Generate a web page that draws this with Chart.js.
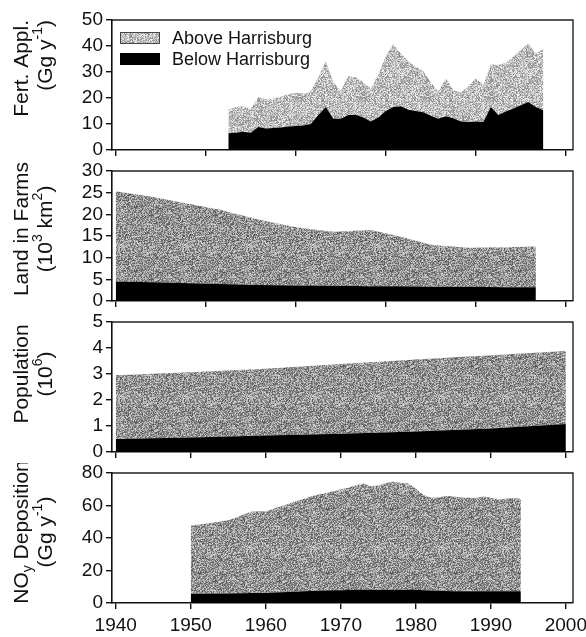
<!DOCTYPE html>
<html>
<head>
<meta charset="utf-8">
<script src="https://cdn.jsdelivr.net/npm/chart.js@4.4.1/dist/chart.umd.min.js"></script>
<style>
	body { margin: 0; background: #fff; }
	#wrap { position: relative; width: 586px; height: 637px; }
	#wrap canvas { position: absolute; left: 0; }
</style>
</head>
<body>
<div id="wrap">
	<canvas id="c-fert" width="586" height="151" style="top:10px"></canvas>
	<canvas id="c-land" width="586" height="151" style="top:161px"></canvas>
	<canvas id="c-pop" width="586" height="151" style="top:312px"></canvas>
	<canvas id="c-noy" width="586" height="174" style="top:463px"></canvas>
</div>
<script>
// --- data ---
var fertYears = [1955, 1956, 1957, 1958, 1959, 1960, 1961, 1962, 1963, 1964, 1965, 1966, 1967, 1968, 1969, 1970, 1971, 1972, 1973, 1974, 1975, 1976, 1977, 1978, 1979, 1980, 1981, 1982, 1983, 1984, 1985, 1986, 1987, 1988, 1989, 1990, 1991, 1992, 1993, 1994, 1995, 1996, 1997];
var fertTotal = [15.6, 16.5, 16.8, 15.8, 20.4, 19.5, 19.8, 20.5, 21.5, 22.0, 21.6, 22.5, 28.0, 34.0, 26.0, 22.8, 28.4, 28.0, 26.0, 23.7, 29.0, 36.0, 40.7, 37.0, 34.0, 32.0, 30.3, 26.0, 22.4, 27.5, 23.0, 22.0, 24.5, 27.5, 25.0, 33.0, 32.7, 33.5, 36.0, 38.5, 41.0, 37.0, 39.0];
var fertBelow = [6.4, 6.6, 7.0, 6.6, 8.8, 8.3, 8.5, 8.7, 9.0, 9.2, 9.4, 10.0, 13.5, 16.5, 12.0, 12.0, 13.5, 13.6, 12.5, 11.0, 12.5, 15.0, 16.5, 16.8, 15.5, 15.0, 14.5, 13.2, 12.0, 13.0, 12.2, 11.0, 10.8, 11.0, 10.8, 16.5, 13.5, 14.8, 16.0, 17.2, 18.5, 16.5, 15.3];

var landYears = [1940, 1945, 1950, 1954, 1959, 1964, 1969, 1974, 1978, 1982, 1987, 1992, 1996];
var landTotal = [25.3, 24.0, 22.3, 21.0, 18.8, 17.0, 16.0, 16.4, 14.8, 13.0, 12.3, 12.4, 12.6];
var landBelow = [4.5, 4.3, 4.1, 3.9, 3.7, 3.6, 3.5, 3.4, 3.4, 3.3, 3.3, 3.2, 3.2];

var popYears = [1940, 1950, 1960, 1970, 1980, 1990, 2000];
var popTotal = [2.95, 3.07, 3.20, 3.38, 3.56, 3.72, 3.88];
var popBelow = [0.50, 0.56, 0.63, 0.70, 0.79, 0.90, 1.08];

var noyYears = [1950, 1951, 1952, 1953, 1954, 1955, 1956, 1957, 1958, 1959, 1960, 1961, 1962, 1963, 1964, 1965, 1966, 1967, 1968, 1969, 1970, 1971, 1972, 1973, 1974, 1975, 1976, 1977, 1978, 1979, 1980, 1981, 1982, 1983, 1984, 1985, 1986, 1987, 1988, 1989, 1990, 1991, 1992, 1993, 1994];
var noyTotal = [47.5, 48.3, 48.8, 49.5, 50.2, 50.9, 52.5, 54.5, 56.2, 56.4, 56.5, 58.0, 59.5, 61.0, 62.6, 64.0, 65.5, 66.7, 67.5, 68.8, 70.0, 71.0, 72.5, 73.5, 71.8, 72.5, 73.8, 74.8, 74.0, 73.5, 70.5, 66.5, 65.0, 65.0, 65.8, 65.5, 65.0, 64.8, 64.6, 65.6, 64.8, 63.6, 64.2, 64.6, 64.0];
var noyBelow = [5.7, 5.7, 5.8, 5.8, 5.9, 5.9, 6.0, 6.0, 6.1, 6.1, 6.2, 6.4, 6.6, 6.8, 7.0, 7.2, 7.4, 7.5, 7.7, 7.8, 7.9, 8.0, 8.1, 8.2, 8.2, 8.2, 8.2, 8.2, 8.2, 8.2, 8.1, 7.9, 7.7, 7.5, 7.4, 7.3, 7.3, 7.3, 7.2, 7.2, 7.2, 7.2, 7.2, 7.2, 7.2];

var seriesLabels = ["Below Harrisburg", "Above Harrisburg"];
var xTicksTwelve = [1940, 1952, 1964, 1976, 1988, 2000];
var xTicksDecade = [1940, 1950, 1960, 1970, 1980, 1990, 2000];

var FONT = "'Liberation Sans', Arial, sans-serif";
var TICK_SIZE = 19;
var TITLE_SIZE = 21;

function makeStipple(lo, hi, seed)
{
	var c = document.createElement("canvas");
	c.width = 64; c.height = 64;
	var g = c.getContext("2d");
	var img = g.createImageData(64, 64);
	var s = seed >>> 0;
	for (var i = 0; i < 64 * 64; i++)
	{
		s = (Math.imul(s, 1664525) + 1013904223) >>> 0;
		var v = lo + ((s >>> 20) % (hi - lo));
		img.data[i * 4] = img.data[i * 4 + 1] = img.data[i * 4 + 2] = v;
		img.data[i * 4 + 3] = 255;
	}
	g.putImageData(img, 0, 0);
	return g.createPattern(c, "repeat");
}

function toPoints(xs, ys)
{
	return xs.map(function(x, i) { return { x: x, y: ys[i] }; });
}

// rotated axis title with super/subscripts
function drawRich(ctx, parts, x, y, align)
{
	ctx.save();
	ctx.translate(x, y);
	ctx.rotate(-Math.PI / 2);
	ctx.textBaseline = "middle";
	var w = 0;
	parts.forEach(function(p)
	{
		ctx.font = (p.sup || p.sub ? "14px " : TITLE_SIZE + "px ") + FONT;
		p.w = ctx.measureText(p.t).width;
		w += p.w;
	});
	var cx = align === "end" ? -w : -w / 2;
	parts.forEach(function(p)
	{
		ctx.font = (p.sup || p.sub ? "14px " : TITLE_SIZE + "px ") + FONT;
		ctx.fillStyle = "#111";
		var dy = p.sup ? -8 : (p.sub ? 6 : 0);
		ctx.fillText(p.t, cx, dy);
		cx += p.w;
	});
	ctx.restore();
}

var panelPlugin = {
	id: "panel",
	afterDraw: function(chart, args, opts)
	{
		var a = chart.chartArea, ctx = chart.ctx;
		ctx.save();
		ctx.strokeStyle = "#222";
		ctx.lineWidth = 1.4;
		ctx.beginPath();
		ctx.moveTo(a.left, a.top);
		ctx.lineTo(a.right, a.top);
		ctx.lineTo(a.right, a.bottom);
		ctx.stroke();
		ctx.restore();

		var top = opts.canvasTop;
		opts.title.forEach(function(line, i)
		{
			drawRich(ctx, line, opts.titleX[i], opts.titleY[i] - top, opts.titleAlign);
		});

		if (opts.legend)
		{
			var ds = chart.data.datasets;
			var rows = [ds[1], ds[0]];
			ctx.save();
			ctx.font = "18px " + FONT;
			ctx.textBaseline = "middle";
			rows.forEach(function(d, i)
			{
				var yy = [38, 59][i] - top;
				ctx.fillStyle = d.backgroundColor;
				ctx.fillRect(120, yy - 6, 40, 12);
				if (i === 0)
				{
					ctx.strokeStyle = "#444";
					ctx.lineWidth = 1;
					ctx.strokeRect(120.5, yy - 5.5, 39, 11);
				}
				ctx.fillStyle = "#111";
				ctx.fillText(d.label, 172, yy + 1);
			});
			ctx.restore();
		}
	}
};

function MakePanel(id, canvasTop, years, total, below, yMax, yStep, xTicks, showX, fill, panelOpts)
{
	panelOpts.canvasTop = canvasTop;
	return new Chart(document.getElementById(id), {
		type: "line",
		data: {
			datasets: [
				{ label: seriesLabels[0], data: toPoints(years, below), backgroundColor: "#000", fill: "origin", borderWidth: 0, pointRadius: 0 },
				{ label: seriesLabels[1], data: toPoints(years, total), backgroundColor: fill, fill: "-1", borderWidth: 0, pointRadius: 0 }
			]
		},
		options: {
			responsive: false,
			animation: false,
			devicePixelRatio: 1,
			layout: { padding: { top: 10, right: 13, left: 0, bottom: 0 } },
			plugins: { legend: { display: false }, tooltip: { enabled: false }, panel: panelOpts },
			scales: {
				x: {
					type: "linear",
					min: 1939.5,
					max: 2000.95,
					afterBuildTicks: function(scale) { scale.ticks = xTicks.map(function(v) { return { value: v }; }); },
					afterFit: function(scale)
					{
						scale.height = showX ? 34 : 11;
						scale.paddingLeft = scale.paddingRight = 0;
					},
					grid: { drawOnChartArea: false, color: "#111", lineWidth: 1.4, tickLength: 6 },
					border: { display: true, color: "#111", width: 1.6 },
					ticks: {
						display: showX,
						autoSkip: false,
						color: "#111",
						padding: 5,
						maxRotation: 0,
						font: { family: FONT, size: TICK_SIZE },
						callback: function(v) { return String(v); }
					}
				},
				y: {
					min: 0,
					max: yMax,
					afterFit: function(scale)
					{
						scale.width = 112;
						scale.paddingTop = scale.paddingBottom = 0;
					},
					grid: { drawOnChartArea: false, color: "#111", lineWidth: 1.4, tickLength: 6 },
					border: { display: true, color: "#111", width: 1.6 },
					ticks: { stepSize: yStep, autoSkip: false, color: "#111", padding: 3, font: { family: FONT, size: TICK_SIZE } }
				}
			}
		},
		plugins: [panelPlugin]
	});
}

var lightStipple = makeStipple(135, 245, 7);
var darkStipple = makeStipple(85, 215, 31);

MakePanel("c-fert", 10, fertYears, fertTotal, fertBelow, 50, 10, xTicksTwelve, false, lightStipple, {
	title: [[{ t: "Fert. Appl." }], [{ t: "(Gg y" }, { t: "-1", sup: true }, { t: ")" }]],
	titleX: [22, 46], titleY: [20, 20], titleAlign: "end", legend: true
});
MakePanel("c-land", 161, landYears, landTotal, landBelow, 30, 5, xTicksTwelve, false, darkStipple, {
	title: [[{ t: "Land in Farms" }], [{ t: "(10" }, { t: "3", sup: true }, { t: " km" }, { t: "2", sup: true }, { t: ")" }]],
	titleX: [22, 46], titleY: [229, 229], titleAlign: "center"
});
MakePanel("c-pop", 312, popYears, popTotal, popBelow, 5, 1, xTicksDecade, false, darkStipple, {
	title: [[{ t: "Population" }], [{ t: "(10" }, { t: "6", sup: true }, { t: ")" }]],
	titleX: [22, 46], titleY: [374, 374], titleAlign: "center"
});
MakePanel("c-noy", 463, noyYears, noyTotal, noyBelow, 80, 20, xTicksDecade, true, darkStipple, {
	title: [[{ t: "NO" }, { t: "y", sub: true }, { t: " Deposition" }], [{ t: "(Gg y" }, { t: "-1", sup: true }, { t: ")" }]],
	titleX: [22, 46], titleY: [532, 532], titleAlign: "center"
});
</script>
</body>
</html>
